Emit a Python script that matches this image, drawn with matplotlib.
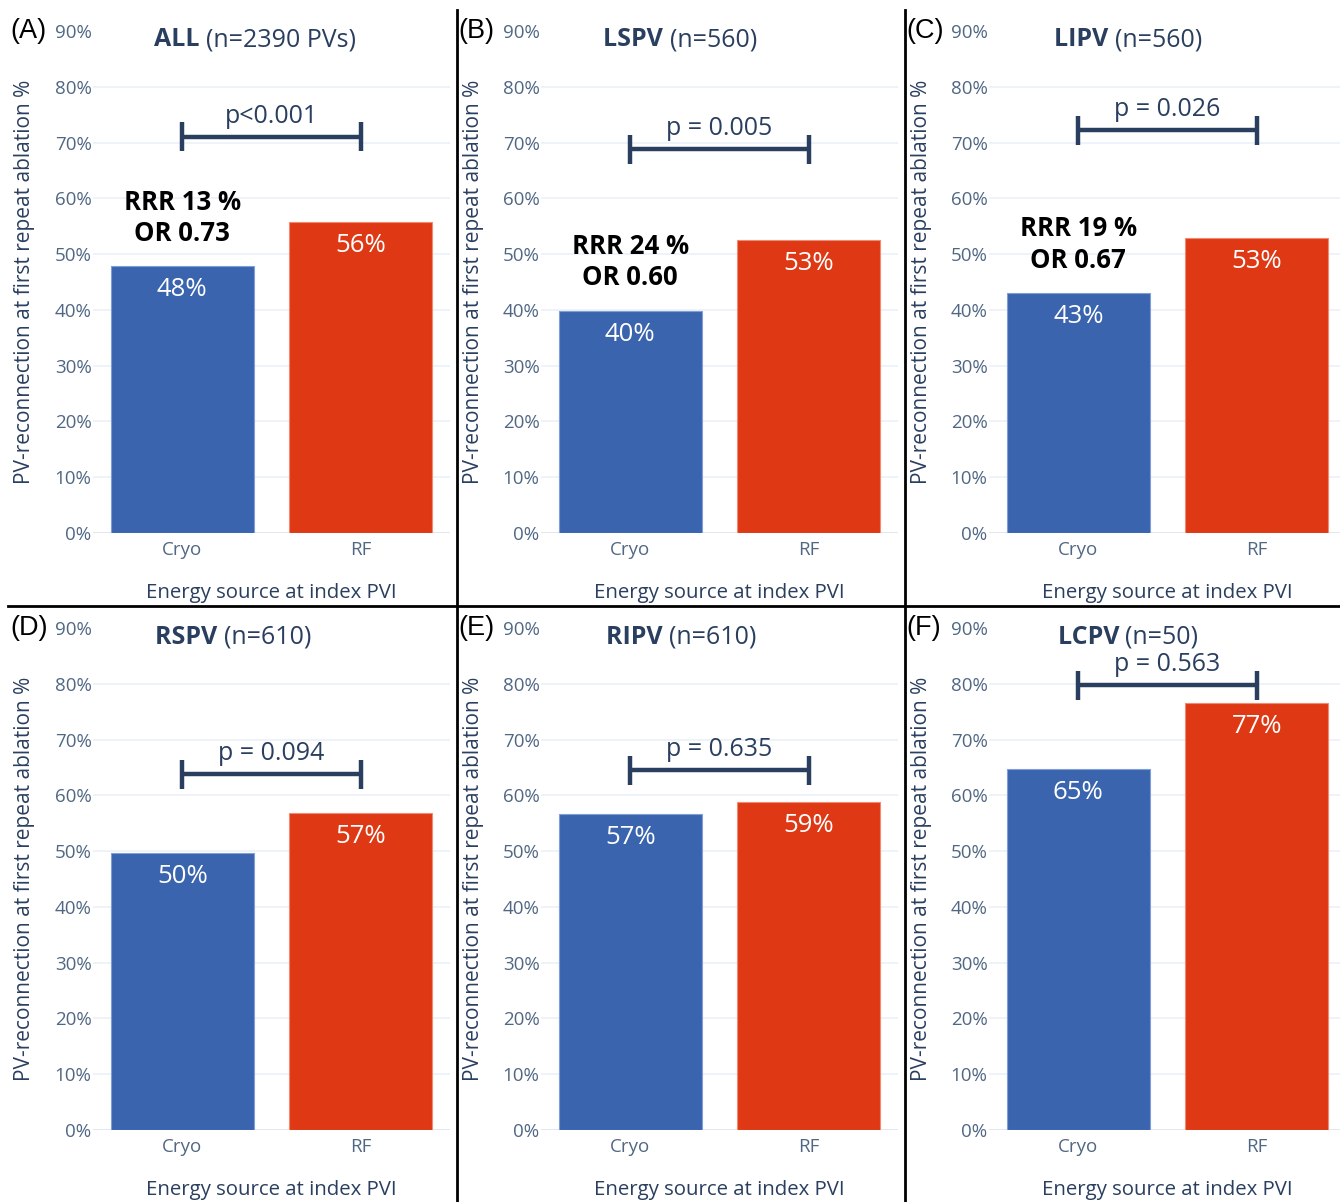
import matplotlib
matplotlib.use('Agg')
import matplotlib.pyplot as plt
from matplotlib.lines import Line2D

plt.rcParams['font.family'] = ['Open Sans', 'DejaVu Sans']

# reconnection rates (%) per vein, Cryo vs RF
panel_tags = ['(A)', '(B)', '(C)', '(D)', '(E)', '(F)']
veins = ['ALL', 'LSPV', 'LIPV', 'RSPV', 'RIPV', 'LCPV']
n_labels = ['(n=2390 PVs)', '(n=560)', '(n=560)', '(n=610)', '(n=610)', '(n=50)']
categories = ['Cryo', 'RF']
cryo = [47.8, 39.8, 43.0, 49.6, 56.6, 64.7]
rf = [55.7, 52.6, 52.9, 56.8, 58.8, 76.6]
p_texts = ['p<0.001', 'p = 0.005', 'p = 0.026', 'p = 0.094', 'p = 0.635', 'p = 0.563']
p_levels = [71.0, 68.8, 72.2, 63.8, 64.5, 79.7]
rrr = ['RRR 13 %', 'RRR 24 %', 'RRR 19 %', None, None, None]
odds = ['OR 0.73', 'OR 0.60', 'OR 0.67', None, None, None]
yticks = [0, 10, 20, 30, 40, 50, 60, 70, 80, 90]

BLUE = '#3a64ae'
RED = '#de3914'
NAVY = '#2a3f5f'
TICK = '#506784'
GRID = '#ebf0f8'

W, H = 1340, 1202
fig = plt.figure(figsize=(W / 100, H / 100), dpi=100)
renderer = fig.canvas.get_renderer()

# title centre (px) inside each panel
title_cx = [255, 232, 232, 233, 233, 232]

def px_axes(x0, y_top, x1, y_bot):
    return fig.add_axes([x0 / W, 1 - y_bot / H, (x1 - x0) / W, (y_bot - y_top) / H])

def fx(x):
    return x / W

def fy(y):
    return 1 - y / H

for i in range(6):
    row, col = divmod(i, 3)
    dx = col * 448
    dy = row * 597
    ax = px_axes(93 + dx, 31 + dy, 450 + dx, 533 + dy)
    ax.set_xlim(-0.5, 1.5)
    ax.set_ylim(0, 90)
    vals = [cryo[i], rf[i]]
    ax.bar([0, 1], vals, width=0.8, color=[BLUE, RED], edgecolor=['#7f9fd6', '#f08a70'],
           linewidth=0.8, zorder=3)
    for x, v in zip([0, 1], vals):
        ax.annotate(f'{v:.0f}%', (x, v), xytext=(0, -17), textcoords='offset points',
                    ha='center', va='center', color='white', fontsize=18.5, zorder=4)

    ax.set_yticks(yticks)
    ax.set_yticklabels([f'{t}%' for t in yticks])
    ax.set_xticks([0, 1])
    ax.set_xticklabels(categories)
    ax.tick_params(length=0, labelsize=13.5, labelcolor=TICK, pad=1)
    ax.tick_params(axis='x', pad=6)
    for s in ax.spines.values():
        s.set_visible(False)
    for t in yticks[1:-1]:
        ax.axhline(t, color=GRID, lw=1.2, zorder=1)
    ax.axhline(0, color='#dfe6f0', lw=2, zorder=2)

    fig.text(fx(25 + dx), fy(282 + dy), 'PV-reconnection at first repeat ablation %',
             rotation=90, ha='center', va='center', fontsize=15, color=NAVY)
    fig.text(fx(271 + dx), fy(593 + dy), 'Energy source at index PVI',
             ha='center', va='center', fontsize=14.7, color=NAVY)

    # title: bold vein name followed by sample size
    t_bold = fig.text(0, fy(40 + dy), veins[i] + ' ', ha='left', va='center',
                      fontsize=18, fontweight='bold', color=NAVY)
    t_norm = fig.text(0, fy(40 + dy), n_labels[i], ha='left', va='center',
                      fontsize=18, color=NAVY)
    wb = t_bold.get_window_extent(renderer).width
    wn = t_norm.get_window_extent(renderer).width
    left = title_cx[i] + dx - (wb + wn) / 2
    t_bold.set_x(fx(left))
    t_norm.set_x(fx(left + wb))

    # significance bracket
    yb = p_levels[i]
    ax.plot([0, 1], [yb, yb], color=NAVY, lw=3.2, solid_capstyle='butt', zorder=5)
    for x in [0, 1]:
        ax.plot([x, x], [yb - 2.6, yb + 2.6], color=NAVY, lw=3.2,
                solid_capstyle='butt', zorder=5)
    ax.annotate(p_texts[i], (0.5, yb), xytext=(0, 15), textcoords='offset points',
                ha='center', va='center', fontsize=18, color=NAVY, zorder=5)

    if rrr[i]:
        ax.annotate(rrr[i] + '\n' + odds[i], (0, cryo[i]), xytext=(0, 35),
                    textcoords='offset points', ha='center', va='center',
                    fontsize=18.5, fontweight='bold', color='black',
                    linespacing=1.2, zorder=5)

    fig.text(fx(10 + dx), fy(31 + dy), panel_tags[i], fontsize=19.5,
             family='Liberation Sans', color='black', ha='left', va='center')

# panel dividers
for x in [457, 905]:
    fig.add_artist(Line2D([fx(x), fx(x)], [fy(10), 0], color='black', lw=2))
fig.add_artist(Line2D([fx(8), 1], [fy(606), fy(606)], color='black', lw=2))

fig.savefig('out.png', dpi=100, facecolor='white')
